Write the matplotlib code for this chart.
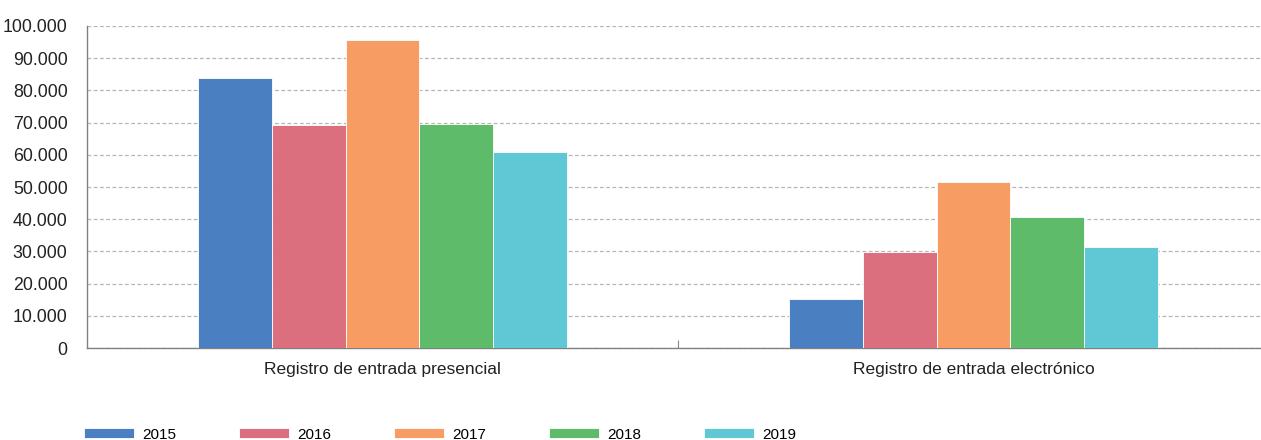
import numpy as np
import matplotlib.pyplot as plt
from matplotlib.ticker import FuncFormatter

categorias = ["Registro de entrada presencial", "Registro de entrada electrónico"]
anios = ["2015", "2016", "2017", "2018", "2019"]
valores = {
    "2015": [84000, 15200],
    "2016": [69300, 29800],
    "2017": [95600, 51500],
    "2018": [69600, 40700],
    "2019": [60900, 31400],
}
colores = ["#4a7fc1", "#dc6f7e", "#f79d64", "#5dbb6a", "#5fc8d4"]

plt.rcParams["font.family"] = ["Liberation Sans", "DejaVu Sans"]

fig = plt.figure(figsize=(12.61, 4.4), dpi=100)
# el eje sigue mas alla del borde derecho, como en el original
ax = fig.add_axes([87 / 1261, 1 - 348 / 440, 1182 / 1261, 322 / 440])

x = np.arange(len(categorias))
ancho = 0.125
for i, anio in enumerate(anios):
    ax.bar(x + (i - 2) * ancho, valores[anio], ancho, color=colores[i],
           edgecolor="white", linewidth=0.6, label=anio, zorder=3)

ax.set_xlim(-0.5, 1.5)
ax.set_ylim(0, 100000)
ax.set_yticks(np.arange(0, 100001, 10000))
ax.yaxis.set_major_formatter(FuncFormatter(lambda v, p: f"{int(v):,}".replace(",", ".")))
ax.grid(axis="y", color="#b5b5b5", linestyle=(0, (3, 2)), linewidth=0.9, zorder=0)

ax.set_xticks([0.5])
ax.set_xticklabels([""])
ax.tick_params(axis="x", direction="in", length=6, color="#888888")
ax.tick_params(axis="y", length=0, labelsize=12.8, colors="#222222", pad=14)
for i, c in enumerate(categorias):
    ax.text(x[i], -0.045, c, transform=ax.get_xaxis_transform(), ha="center",
            va="top", fontsize=12.5, color="#222222")

for s in ["top", "right"]:
    ax.spines[s].set_visible(False)
for s in ["left", "bottom"]:
    ax.spines[s].set_color("#808080")
    ax.spines[s].set_linewidth(1.0)

fig.legend(loc="lower left", bbox_to_anchor=(70 / 1261, -0.035), ncol=5, frameon=False,
           handlelength=3.3, handleheight=0.65, columnspacing=4.1, handletextpad=0.52,
           fontsize=11)

fig.savefig("out.png", dpi=100)
